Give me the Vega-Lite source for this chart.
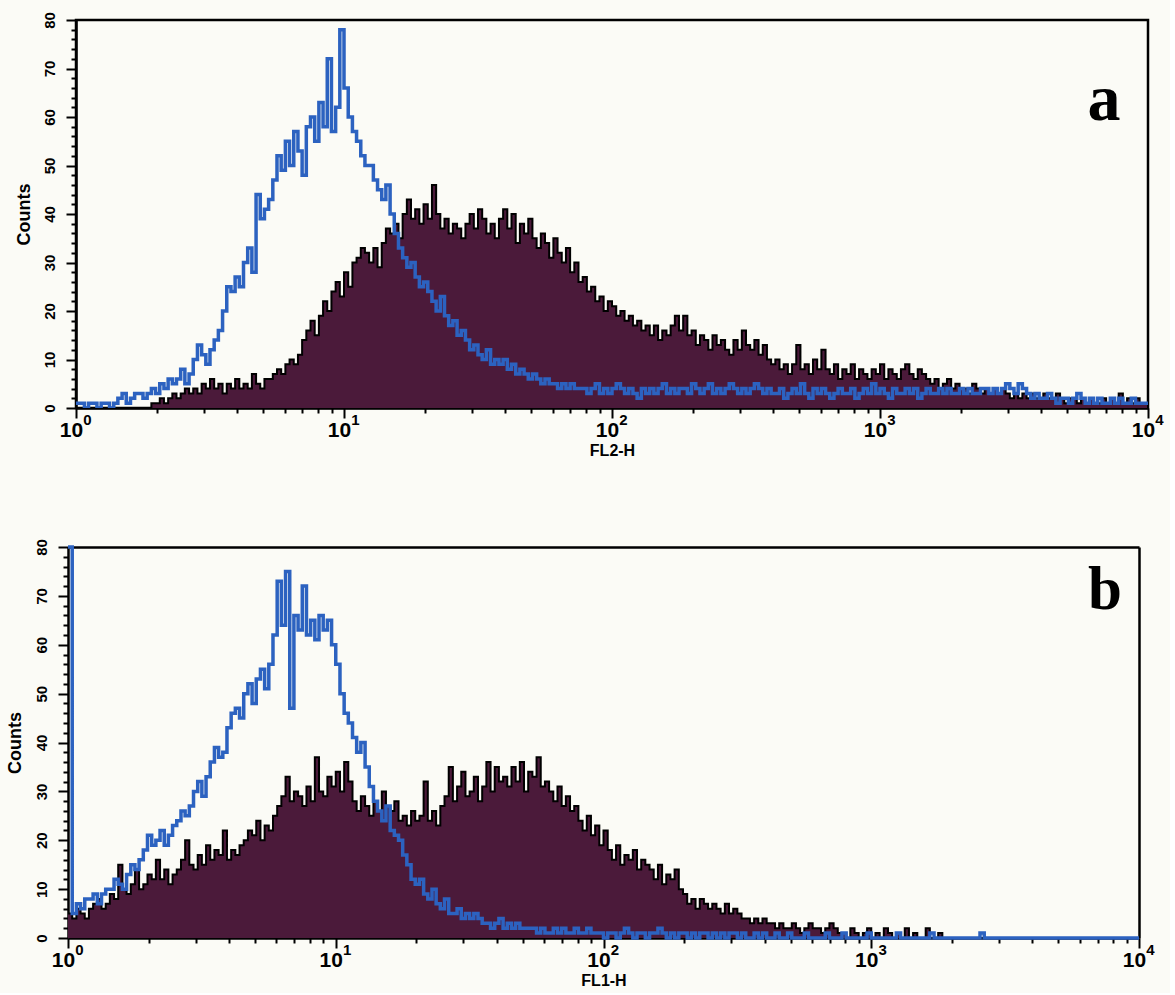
{
"$schema": "https://vega.github.io/schema/vega-lite/v6.json",
"background": "#fbfbf6",
"padding": {"left": 6, "top": 10, "right": 5, "bottom": 5},
"config": {"view": {"stroke": "black", "strokeWidth": 2.5}, "font": "Liberation Sans"},
"datasets": {
"pa": [
{"x":1,"r":0,"b":1},{"x":1.037,"r":0,"b":1},{"x":1.075,"r":0,"b":0},{"x":1.114,"r":0,"b":1},{"x":1.155,"r":0,"b":1},{"x":1.197,"r":0,"b":0},{"x":1.241,"r":0,"b":1},{"x":1.287,"r":0,"b":1},{"x":1.334,"r":0,"b":0},{"x":1.383,"r":0,"b":1},{"x":1.433,"r":0,"b":2},{"x":1.486,"r":0,"b":3},{"x":1.54,"r":0,"b":1},{"x":1.597,"r":0,"b":2},{"x":1.655,"r":0,"b":3},{"x":1.716,"r":0,"b":3},{"x":1.778,"r":0,"b":2},{"x":1.843,"r":0,"b":3},{"x":1.911,"r":1,"b":4},{"x":1.981,"r":1,"b":3},{"x":2.054,"r":2,"b":5},{"x":2.129,"r":1,"b":4},{"x":2.207,"r":2,"b":6},{"x":2.288,"r":3,"b":5},{"x":2.371,"r":2,"b":6},{"x":2.458,"r":3,"b":8},{"x":2.548,"r":4,"b":5},{"x":2.642,"r":3,"b":7},{"x":2.738,"r":4,"b":10},{"x":2.839,"r":3,"b":13},{"x":2.943,"r":5,"b":11},{"x":3.051,"r":4,"b":9},{"x":3.162,"r":6,"b":12},{"x":3.278,"r":4,"b":14},{"x":3.398,"r":5,"b":16},{"x":3.523,"r":3,"b":20},{"x":3.652,"r":5,"b":25},{"x":3.786,"r":4,"b":24},{"x":3.924,"r":6,"b":27},{"x":4.068,"r":4,"b":25},{"x":4.217,"r":5,"b":30},{"x":4.372,"r":4,"b":33},{"x":4.532,"r":7,"b":28},{"x":4.698,"r":5,"b":44},{"x":4.87,"r":4,"b":39},{"x":5.048,"r":6,"b":41},{"x":5.233,"r":6,"b":43},{"x":5.425,"r":7,"b":47},{"x":5.623,"r":8,"b":52},{"x":5.829,"r":7,"b":49},{"x":6.043,"r":9,"b":55},{"x":6.264,"r":10,"b":50},{"x":6.494,"r":9,"b":57},{"x":6.732,"r":11,"b":53},{"x":6.978,"r":14,"b":48},{"x":7.234,"r":16,"b":58},{"x":7.499,"r":18,"b":60},{"x":7.774,"r":15,"b":55},{"x":8.059,"r":19,"b":63},{"x":8.354,"r":22,"b":58},{"x":8.66,"r":20,"b":72},{"x":8.977,"r":24,"b":57},{"x":9.306,"r":26,"b":62},{"x":9.647,"r":23,"b":78},
{"x":10,"r":28,"b":66},{"x":10.37,"r":25,"b":60},{"x":10.75,"r":30,"b":57},{"x":11.14,"r":31,"b":55},{"x":11.55,"r":33,"b":52},{"x":11.97,"r":32,"b":50},{"x":12.41,"r":30,"b":50},{"x":12.87,"r":33,"b":47},{"x":13.34,"r":29,"b":45},{"x":13.83,"r":34,"b":43},{"x":14.33,"r":37,"b":46},{"x":14.86,"r":36,"b":40},{"x":15.4,"r":38,"b":36},{"x":15.97,"r":35,"b":33},{"x":16.55,"r":40,"b":31},{"x":17.16,"r":43,"b":29},{"x":17.78,"r":39,"b":30},{"x":18.43,"r":41,"b":27},{"x":19.11,"r":38,"b":25},{"x":19.81,"r":42,"b":26},{"x":20.54,"r":39,"b":24},{"x":21.29,"r":46,"b":22},{"x":22.07,"r":40,"b":20},{"x":22.88,"r":37,"b":23},{"x":23.71,"r":39,"b":19},{"x":24.58,"r":36,"b":17},{"x":25.48,"r":38,"b":18},{"x":26.42,"r":37,"b":15},{"x":27.38,"r":35,"b":16},{"x":28.39,"r":38,"b":14},{"x":29.43,"r":40,"b":12},{"x":30.51,"r":37,"b":13},{"x":31.62,"r":41,"b":11},{"x":32.78,"r":39,"b":10},{"x":33.98,"r":36,"b":12},{"x":35.23,"r":38,"b":9},{"x":36.52,"r":35,"b":10},{"x":37.86,"r":39,"b":9},{"x":39.24,"r":41,"b":10},{"x":40.68,"r":37,"b":8},{"x":42.17,"r":40,"b":9},{"x":43.72,"r":34,"b":7},{"x":45.32,"r":38,"b":8},{"x":46.98,"r":36,"b":7},{"x":48.7,"r":39,"b":6},{"x":50.48,"r":35,"b":7},{"x":52.33,"r":33,"b":6},{"x":54.25,"r":36,"b":5},{"x":56.23,"r":34,"b":6},{"x":58.29,"r":31,"b":5},{"x":60.43,"r":35,"b":5},{"x":62.64,"r":32,"b":4},{"x":64.94,"r":30,"b":5},{"x":67.32,"r":33,"b":4},{"x":69.78,"r":28,"b":5},{"x":72.34,"r":30,"b":4},{"x":74.99,"r":26,"b":4},{"x":77.74,"r":27,"b":4},{"x":80.59,"r":24,"b":3},{"x":83.54,"r":25,"b":4},{"x":86.6,"r":22,"b":5},{"x":89.77,"r":23,"b":3},{"x":93.06,"r":20,"b":4},{"x":96.47,"r":22,"b":3},
{"x":100,"r":21,"b":4},{"x":103.7,"r":19,"b":5},{"x":107.5,"r":20,"b":4},{"x":111.4,"r":18,"b":3},{"x":115.5,"r":19,"b":4},{"x":119.7,"r":17,"b":3},{"x":124.1,"r":18,"b":2},{"x":128.7,"r":16,"b":4},{"x":133.4,"r":17,"b":3},{"x":138.3,"r":15,"b":4},{"x":143.3,"r":17,"b":3},{"x":148.6,"r":14,"b":4},{"x":154,"r":16,"b":5},{"x":159.7,"r":15,"b":3},{"x":165.5,"r":17,"b":4},{"x":171.6,"r":19,"b":3},{"x":177.8,"r":16,"b":4},{"x":184.3,"r":19,"b":4},{"x":191.1,"r":15,"b":3},{"x":198.1,"r":16,"b":5},{"x":205.4,"r":13,"b":4},{"x":212.9,"r":15,"b":3},{"x":220.7,"r":14,"b":4},{"x":228.8,"r":12,"b":5},{"x":237.1,"r":15,"b":3},{"x":245.8,"r":13,"b":4},{"x":254.8,"r":14,"b":3},{"x":264.2,"r":12,"b":4},{"x":273.8,"r":11,"b":5},{"x":283.9,"r":14,"b":4},{"x":294.3,"r":12,"b":3},{"x":305.1,"r":16,"b":4},{"x":316.2,"r":13,"b":3},{"x":327.8,"r":12,"b":4},{"x":339.8,"r":14,"b":5},{"x":352.3,"r":11,"b":4},{"x":365.2,"r":13,"b":3},{"x":378.6,"r":10,"b":4},{"x":392.4,"r":9,"b":3},{"x":406.8,"r":10,"b":3},{"x":421.7,"r":8,"b":4},{"x":437.2,"r":9,"b":2},{"x":453.2,"r":7,"b":3},{"x":469.8,"r":9,"b":4},{"x":487,"r":13,"b":3},{"x":504.8,"r":8,"b":5},{"x":523.3,"r":9,"b":3},{"x":542.5,"r":7,"b":2},{"x":562.3,"r":10,"b":4},{"x":582.9,"r":8,"b":3},{"x":604.3,"r":12,"b":4},{"x":626.4,"r":8,"b":3},{"x":649.4,"r":7,"b":2},{"x":673.2,"r":9,"b":3},{"x":697.8,"r":6,"b":4},{"x":723.4,"r":8,"b":3},{"x":749.9,"r":7,"b":3},{"x":777.4,"r":9,"b":4},{"x":805.9,"r":6,"b":2},{"x":835.4,"r":8,"b":3},{"x":866,"r":7,"b":4},{"x":897.7,"r":6,"b":3},{"x":930.6,"r":8,"b":5},{"x":964.7,"r":7,"b":3},
{"x":1000,"r":9,"b":4},{"x":1037,"r":6,"b":3},{"x":1075,"r":8,"b":2},{"x":1114,"r":7,"b":4},{"x":1155,"r":6,"b":3},{"x":1197,"r":8,"b":3},{"x":1241,"r":9,"b":4},{"x":1287,"r":7,"b":3},{"x":1334,"r":6,"b":4},{"x":1383,"r":8,"b":2},{"x":1433,"r":7,"b":3},{"x":1486,"r":6,"b":4},{"x":1540,"r":5,"b":3},{"x":1597,"r":6,"b":3},{"x":1655,"r":4,"b":4},{"x":1716,"r":5,"b":3},{"x":1778,"r":6,"b":4},{"x":1843,"r":4,"b":3},{"x":1911,"r":5,"b":3},{"x":1981,"r":4,"b":4},{"x":2054,"r":4,"b":3},{"x":2129,"r":3,"b":4},{"x":2207,"r":5,"b":3},{"x":2288,"r":4,"b":3},{"x":2371,"r":3,"b":4},{"x":2458,"r":4,"b":4},{"x":2548,"r":3,"b":3},{"x":2642,"r":4,"b":4},{"x":2738,"r":3,"b":3},{"x":2839,"r":4,"b":4},{"x":2943,"r":3,"b":5},{"x":3051,"r":2,"b":4},{"x":3162,"r":3,"b":3},{"x":3278,"r":2,"b":5},{"x":3398,"r":3,"b":4},{"x":3523,"r":2,"b":3},{"x":3652,"r":3,"b":2},{"x":3786,"r":2,"b":3},{"x":3924,"r":2,"b":2},{"x":4068,"r":3,"b":2},{"x":4217,"r":2,"b":3},{"x":4372,"r":2,"b":2},{"x":4532,"r":3,"b":1},{"x":4698,"r":2,"b":2},{"x":4870,"r":1,"b":2},{"x":5048,"r":2,"b":1},{"x":5233,"r":2,"b":2},{"x":5425,"r":1,"b":3},{"x":5623,"r":2,"b":2},{"x":5829,"r":1,"b":1},{"x":6043,"r":2,"b":2},{"x":6264,"r":1,"b":1},{"x":6494,"r":1,"b":2},{"x":6732,"r":2,"b":1},{"x":6978,"r":1,"b":1},{"x":7234,"r":2,"b":2},{"x":7499,"r":1,"b":1},{"x":7774,"r":3,"b":2},{"x":8059,"r":1,"b":1},{"x":8354,"r":2,"b":1},{"x":8660,"r":1,"b":2},{"x":8977,"r":2,"b":1},{"x":9306,"r":1,"b":1},{"x":9647,"r":1,"b":1},{"x":10000,"r":0,"b":1}
],
"pb": [
{"x":1,"r":5,"b":80},{"x":1.037,"r":4,"b":5},{"x":1.075,"r":6,"b":7},{"x":1.114,"r":5,"b":6},{"x":1.155,"r":4,"b":8},{"x":1.197,"r":6,"b":8},{"x":1.241,"r":7,"b":9},{"x":1.287,"r":8,"b":7},{"x":1.334,"r":6,"b":9},{"x":1.383,"r":7,"b":10},{"x":1.433,"r":9,"b":10},{"x":1.486,"r":8,"b":12},{"x":1.54,"r":15,"b":11},{"x":1.597,"r":10,"b":10},{"x":1.655,"r":9,"b":13},{"x":1.716,"r":11,"b":15},{"x":1.778,"r":14,"b":14},{"x":1.843,"r":10,"b":16},{"x":1.911,"r":11,"b":18},{"x":1.981,"r":13,"b":21},{"x":2.054,"r":12,"b":19},{"x":2.129,"r":16,"b":20},{"x":2.207,"r":12,"b":22},{"x":2.288,"r":14,"b":19},{"x":2.371,"r":11,"b":21},{"x":2.458,"r":13,"b":23},{"x":2.548,"r":14,"b":24},{"x":2.642,"r":16,"b":26},{"x":2.738,"r":20,"b":25},{"x":2.839,"r":15,"b":27},{"x":2.943,"r":14,"b":30},{"x":3.051,"r":17,"b":32},{"x":3.162,"r":15,"b":29},{"x":3.278,"r":19,"b":33},{"x":3.398,"r":16,"b":36},{"x":3.523,"r":18,"b":39},{"x":3.652,"r":17,"b":37},{"x":3.786,"r":22,"b":38},{"x":3.924,"r":16,"b":43},{"x":4.068,"r":18,"b":46},{"x":4.217,"r":17,"b":47},{"x":4.372,"r":19,"b":45},{"x":4.532,"r":20,"b":50},{"x":4.698,"r":22,"b":52},{"x":4.87,"r":21,"b":48},{"x":5.048,"r":24,"b":53},{"x":5.233,"r":20,"b":55},{"x":5.425,"r":23,"b":51},{"x":5.623,"r":22,"b":56},{"x":5.829,"r":25,"b":62},{"x":6.043,"r":27,"b":73},{"x":6.264,"r":29,"b":64},{"x":6.494,"r":33,"b":75},{"x":6.732,"r":28,"b":47},{"x":6.978,"r":30,"b":66},{"x":7.234,"r":29,"b":63},{"x":7.499,"r":27,"b":72},{"x":7.774,"r":31,"b":62},{"x":8.059,"r":28,"b":65},{"x":8.354,"r":37,"b":61},{"x":8.66,"r":30,"b":66},{"x":8.977,"r":29,"b":63},{"x":9.306,"r":33,"b":65},{"x":9.647,"r":31,"b":60},
{"x":10,"r":34,"b":56},{"x":10.37,"r":30,"b":50},{"x":10.75,"r":36,"b":46},{"x":11.14,"r":32,"b":44},{"x":11.55,"r":28,"b":41},{"x":11.97,"r":26,"b":38},{"x":12.41,"r":29,"b":40},{"x":12.87,"r":27,"b":35},{"x":13.34,"r":25,"b":31},{"x":13.83,"r":28,"b":28},{"x":14.33,"r":26,"b":26},{"x":14.86,"r":30,"b":24},{"x":15.4,"r":27,"b":27},{"x":15.97,"r":26,"b":22},{"x":16.55,"r":28,"b":21},{"x":17.16,"r":24,"b":20},{"x":17.78,"r":25,"b":17},{"x":18.43,"r":23,"b":15},{"x":19.11,"r":26,"b":12},{"x":19.81,"r":24,"b":11},{"x":20.54,"r":25,"b":12},{"x":21.29,"r":32,"b":9},{"x":22.07,"r":24,"b":8},{"x":22.88,"r":26,"b":10},{"x":23.71,"r":23,"b":7},{"x":24.58,"r":27,"b":6},{"x":25.48,"r":29,"b":8},{"x":26.42,"r":35,"b":5},{"x":27.38,"r":28,"b":5},{"x":28.39,"r":31,"b":6},{"x":29.43,"r":34,"b":4},{"x":30.51,"r":29,"b":5},{"x":31.62,"r":30,"b":4},{"x":32.78,"r":33,"b":5},{"x":33.98,"r":28,"b":4},{"x":35.23,"r":31,"b":3},{"x":36.52,"r":36,"b":3},{"x":37.86,"r":30,"b":2},{"x":39.24,"r":35,"b":3},{"x":40.68,"r":32,"b":4},{"x":42.17,"r":33,"b":2},{"x":43.72,"r":31,"b":3},{"x":45.32,"r":35,"b":2},{"x":46.98,"r":32,"b":3},{"x":48.7,"r":36,"b":2},{"x":50.48,"r":30,"b":2},{"x":52.33,"r":34,"b":2},{"x":54.25,"r":33,"b":2},{"x":56.23,"r":37,"b":1},{"x":58.29,"r":31,"b":2},{"x":60.43,"r":32,"b":1},{"x":62.64,"r":30,"b":1},{"x":64.94,"r":28,"b":2},{"x":67.32,"r":31,"b":1},{"x":69.78,"r":27,"b":2},{"x":72.34,"r":29,"b":1},{"x":74.99,"r":26,"b":1},{"x":77.74,"r":27,"b":2},{"x":80.59,"r":24,"b":1},{"x":83.54,"r":22,"b":1},{"x":86.6,"r":25,"b":2},{"x":89.77,"r":21,"b":1},{"x":93.06,"r":23,"b":1},{"x":96.47,"r":19,"b":1},
{"x":100,"r":22,"b":0},{"x":103.7,"r":18,"b":1},{"x":107.5,"r":16,"b":1},{"x":111.4,"r":19,"b":0},{"x":115.5,"r":15,"b":1},{"x":119.7,"r":17,"b":2},{"x":124.1,"r":16,"b":1},{"x":128.7,"r":18,"b":0},{"x":133.4,"r":14,"b":1},{"x":138.3,"r":16,"b":1},{"x":143.3,"r":15,"b":0},{"x":148.6,"r":14,"b":1},{"x":154,"r":12,"b":1},{"x":159.7,"r":15,"b":2},{"x":165.5,"r":11,"b":1},{"x":171.6,"r":13,"b":0},{"x":177.8,"r":12,"b":1},{"x":184.3,"r":14,"b":0},{"x":191.1,"r":10,"b":1},{"x":198.1,"r":9,"b":1},{"x":205.4,"r":7,"b":0},{"x":212.9,"r":8,"b":1},{"x":220.7,"r":6,"b":0},{"x":228.8,"r":8,"b":1},{"x":237.1,"r":7,"b":1},{"x":245.8,"r":6,"b":0},{"x":254.8,"r":7,"b":1},{"x":264.2,"r":6,"b":0},{"x":273.8,"r":5,"b":1},{"x":283.9,"r":7,"b":0},{"x":294.3,"r":5,"b":1},{"x":305.1,"r":6,"b":1},{"x":316.2,"r":5,"b":0},{"x":327.8,"r":4,"b":1},{"x":339.8,"r":4,"b":0},{"x":352.3,"r":3,"b":0},{"x":365.2,"r":4,"b":1},{"x":378.6,"r":3,"b":0},{"x":392.4,"r":4,"b":1},{"x":406.8,"r":3,"b":0},{"x":421.7,"r":3,"b":0},{"x":437.2,"r":2,"b":1},{"x":453.2,"r":3,"b":0},{"x":469.8,"r":2,"b":0},{"x":487,"r":2,"b":1},{"x":504.8,"r":3,"b":0},{"x":523.3,"r":2,"b":0},{"x":542.5,"r":1,"b":0},{"x":562.3,"r":2,"b":1},{"x":582.9,"r":3,"b":0},{"x":604.3,"r":2,"b":0},{"x":626.4,"r":2,"b":0},{"x":649.4,"r":1,"b":0},{"x":673.2,"r":2,"b":1},{"x":697.8,"r":3,"b":0},{"x":723.4,"r":2,"b":0},{"x":749.9,"r":1,"b":0},{"x":777.4,"r":1,"b":1},{"x":805.9,"r":0,"b":0},{"x":835.4,"r":2,"b":0},{"x":866,"r":1,"b":0},{"x":897.7,"r":0,"b":0},{"x":930.6,"r":1,"b":0},{"x":964.7,"r":2,"b":1},
{"x":1000,"r":0,"b":0},{"x":1037,"r":1,"b":0},{"x":1075,"r":0,"b":0},{"x":1114,"r":2,"b":0},{"x":1155,"r":1,"b":0},{"x":1197,"r":0,"b":0},{"x":1241,"r":1,"b":1},{"x":1287,"r":0,"b":0},{"x":1334,"r":2,"b":0},{"x":1383,"r":0,"b":0},{"x":1433,"r":1,"b":0},{"x":1486,"r":0,"b":0},{"x":1540,"r":0,"b":0},{"x":1597,"r":2,"b":0},{"x":1655,"r":0,"b":1},{"x":1716,"r":0,"b":0},{"x":1778,"r":1,"b":0},{"x":1843,"r":0,"b":0},{"x":1911,"r":0,"b":0},{"x":1981,"r":0,"b":0},{"x":2054,"r":0,"b":0},{"x":2129,"r":0,"b":0},{"x":2207,"r":0,"b":0},{"x":2288,"r":0,"b":0},{"x":2371,"r":0,"b":0},{"x":2458,"r":0,"b":0},{"x":2548,"r":0,"b":1},{"x":2642,"r":0,"b":0},{"x":2738,"r":0,"b":0},{"x":2839,"r":0,"b":0},{"x":2943,"r":0,"b":0},{"x":3051,"r":0,"b":0},{"x":3162,"r":0,"b":0},{"x":3278,"r":0,"b":0},{"x":3398,"r":0,"b":0},{"x":3523,"r":0,"b":0},{"x":3652,"r":0,"b":0},{"x":3786,"r":0,"b":0},{"x":3924,"r":0,"b":0},{"x":4068,"r":0,"b":0},{"x":4217,"r":0,"b":0},{"x":4372,"r":0,"b":0},{"x":4532,"r":0,"b":0},{"x":4698,"r":0,"b":0},{"x":4870,"r":0,"b":0},{"x":5048,"r":0,"b":0},{"x":5233,"r":0,"b":0},{"x":5425,"r":0,"b":0},{"x":5623,"r":0,"b":0},{"x":5829,"r":0,"b":0},{"x":6043,"r":0,"b":0},{"x":6264,"r":0,"b":0},{"x":6494,"r":0,"b":0},{"x":6732,"r":0,"b":0},{"x":6978,"r":0,"b":0},{"x":7234,"r":0,"b":0},{"x":7499,"r":0,"b":0},{"x":7774,"r":0,"b":0},{"x":8059,"r":0,"b":0},{"x":8354,"r":0,"b":0},{"x":8660,"r":0,"b":0},{"x":8977,"r":0,"b":0},{"x":9306,"r":0,"b":0},{"x":9647,"r":0,"b":0},{"x":10000,"r":0,"b":0}
],
"la": [{"x":6850,"y":63.5,"t":"a"}],
"lb": [{"x":7470,"y":71,"t":"b"}]
},
"spacing": 78,
"vconcat": [
{
"width": 1072, "height": 388,
"resolve": {"axis": {"x": "independent", "y": "independent"}},
"layer": [
{"data": {"name": "pa"},
 "mark": {"type": "area", "interpolate": "step-after", "color": "#4b1a3a", "opacity": 1, "clip": true, "line": {"color": "black", "strokeWidth": 2}},
 "encoding": {
  "x": {"field": "x", "type": "quantitative", "scale": {"type": "log", "domain": [1, 10000], "nice": false},
   "axis": {"orient": "bottom", "values": [1, 10, 100, 1000, 10000], "labelExpr": "'10'", "labelFontSize": 21, "labelFontWeight": "bold", "labelColor": "black", "labelOffset": -5, "labelPadding": 1, "labelFlush": false, "labelOverlap": false, "labelBound": false, "tickSize": 10, "tickWidth": 2, "tickColor": "black", "domainColor": "black", "domainWidth": 2.5, "grid": false, "title": "FL2-H", "titleFontSize": 16, "titleFontWeight": "bold", "titleColor": "black", "titlePadding": 2}},
  "y": {"field": "r", "type": "quantitative", "scale": {"domain": [0, 80], "nice": false},
   "axis": {"orient": "left", "values": [0, 10, 20, 30, 40, 50, 60, 70, 80], "labelAngle": 270, "labelFontSize": 15, "labelFontWeight": "bold", "labelColor": "black", "labelPadding": 9, "labelFlush": false, "labelOverlap": false, "labelBound": false, "tickSize": 10, "tickWidth": 2, "tickColor": "black", "domainColor": "black", "domainWidth": 2.5, "grid": false, "title": "Counts", "titleFontSize": 18, "titleFontWeight": "bold", "titleColor": "black", "titlePadding": 9}}
 }},
{"data": {"name": "pa"},
 "mark": {"type": "line", "interpolate": "step-after", "color": "#2c62c0", "strokeWidth": 3.5, "clip": true},
 "encoding": {
  "x": {"field": "x", "type": "quantitative",
   "axis": {"orient": "bottom", "values": [2,3,4,5,6,7,8,9,20,30,40,50,60,70,80,90,200,300,400,500,600,700,800,900,2000,3000,4000,5000,6000,7000,8000,9000], "labels": false, "domain": false, "grid": false, "tickSize": 5, "tickWidth": 2, "tickColor": "black", "title": null}},
  "y": {"field": "b", "type": "quantitative",
   "axis": {"orient": "left", "values": [2,4,6,8,12,14,16,18,22,24,26,28,32,34,36,38,42,44,46,48,52,54,56,58,62,64,66,68,72,74,76,78], "labels": false, "domain": false, "grid": false, "tickSize": 5, "tickWidth": 2, "tickColor": "black", "title": null}}
 }},
{"data": {"name": "la"},
 "mark": {"type": "text", "font": "Liberation Serif", "fontWeight": "bold", "fontSize": 66, "baseline": "middle", "align": "center", "color": "black"},
 "encoding": {
  "x": {"field": "x", "type": "quantitative",
   "axis": {"orient": "bottom", "values": [1, 10, 100, 1000, 10000], "labelExpr": "'' + round(log(datum.value)/LN10)", "labelFontSize": 15, "labelFontWeight": "bold", "labelColor": "black", "labelOffset": 11, "labelPadding": -6, "ticks": true, "tickSize": 10, "tickOpacity": 0, "domain": false, "grid": false, "labelFlush": false, "labelOverlap": false, "labelBound": false, "title": null}},
  "y": {"field": "y", "type": "quantitative", "axis": null},
  "text": {"field": "t"}
 }}
]
},
{
"width": 1063, "height": 391,
"view": {"stroke": null},
"resolve": {"axis": {"x": "independent", "y": "independent"}},
"layer": [
{"data": {"name": "pb"},
 "mark": {"type": "area", "interpolate": "step-after", "color": "#4b1a3a", "opacity": 1, "line": {"color": "black", "strokeWidth": 2}},
 "encoding": {
  "x": {"field": "x", "type": "quantitative", "scale": {"type": "log", "domain": [1, 10000], "nice": false, "range": [-8, 1063]},
   "axis": {"orient": "bottom", "values": [1, 10, 100, 1000, 10000], "labelExpr": "'10'", "labelFontSize": 21, "labelFontWeight": "bold", "labelColor": "black", "labelOffset": -5, "labelPadding": 1, "labelFlush": false, "labelOverlap": false, "labelBound": false, "tickSize": 10, "tickWidth": 2, "tickColor": "black", "domainColor": "black", "domainWidth": 2.5, "grid": false, "title": "FL1-H", "titleFontSize": 16, "titleFontWeight": "bold", "titleColor": "black", "titlePadding": 2}},
  "y": {"field": "r", "type": "quantitative", "scale": {"domain": [0, 80], "nice": false},
   "axis": {"orient": "left", "offset": 8, "values": [0, 10, 20, 30, 40, 50, 60, 70, 80], "labelAngle": 270, "labelFontSize": 15, "labelFontWeight": "bold", "labelColor": "black", "labelPadding": 9, "labelFlush": false, "labelOverlap": false, "labelBound": false, "tickSize": 10, "tickWidth": 2, "tickColor": "black", "domainColor": "black", "domainWidth": 2.5, "grid": false, "title": "Counts", "titleFontSize": 18, "titleFontWeight": "bold", "titleColor": "black", "titlePadding": 10}}
 }},
{"data": {"name": "pb"},
 "mark": {"type": "line", "interpolate": "step-after", "color": "#2c62c0", "strokeWidth": 3.5},
 "encoding": {
  "x": {"field": "x", "type": "quantitative",
   "axis": {"orient": "bottom", "values": [2,3,4,5,6,7,8,9,20,30,40,50,60,70,80,90,200,300,400,500,600,700,800,900,2000,3000,4000,5000,6000,7000,8000,9000], "labels": false, "domain": false, "grid": false, "tickSize": 5, "tickWidth": 2, "tickColor": "black", "title": null}},
  "y": {"field": "b", "type": "quantitative",
   "axis": {"orient": "left", "offset": 8, "values": [2,4,6,8,12,14,16,18,22,24,26,28,32,34,36,38,42,44,46,48,52,54,56,58,62,64,66,68,72,74,76,78], "labels": false, "domain": false, "grid": false, "tickSize": 5, "tickWidth": 2, "tickColor": "black", "title": null}}
 }},
{"data": {"name": "lb"},
 "mark": {"type": "text", "font": "Liberation Serif", "fontWeight": "bold", "fontSize": 61, "baseline": "middle", "align": "center", "color": "black"},
 "encoding": {
  "x": {"field": "x", "type": "quantitative",
   "axis": {"orient": "bottom", "values": [1, 10, 100, 1000, 10000], "labelExpr": "'' + round(log(datum.value)/LN10)", "labelFontSize": 15, "labelFontWeight": "bold", "labelColor": "black", "labelOffset": 11, "labelPadding": -6, "ticks": true, "tickSize": 10, "tickOpacity": 0, "domain": false, "grid": false, "labelFlush": false, "labelOverlap": false, "labelBound": false, "title": null}},
  "y": {"field": "y", "type": "quantitative",
   "axis": {"orient": "right", "labels": false, "ticks": false, "domain": true, "domainColor": "black", "domainWidth": 2.5, "grid": false, "title": null}},
  "text": {"field": "t"}
 }},
{"data": {"name": "lb"},
 "mark": {"type": "point", "opacity": 0},
 "encoding": {
  "x": {"field": "x", "type": "quantitative",
   "axis": {"orient": "top", "labels": false, "ticks": false, "domain": true, "domainColor": "black", "domainWidth": 2.5, "grid": false, "title": null}},
  "y": {"field": "y", "type": "quantitative", "axis": null}
 }}
]
}
]
}
